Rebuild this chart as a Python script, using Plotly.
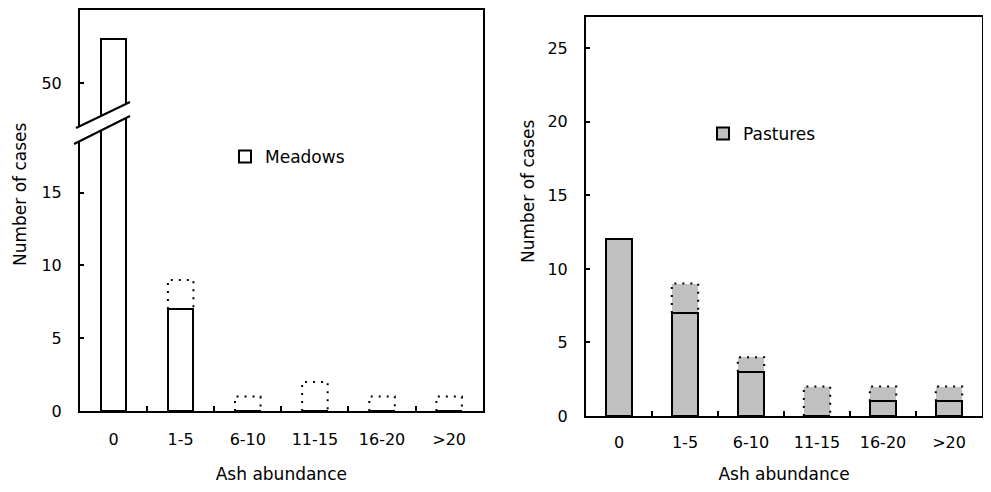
import plotly.graph_objects as go

# ---- data ----
categories = ["0", "1-5", "6-10", "11-15", "16-20", ">20"]
meadows_solid = [53, 7, 0, 0, 0, 0]
meadows_total = [53, 9, 1, 2, 1, 1]
pastures_solid = [12, 7, 3, 0, 1, 1]
pastures_total = [12, 9, 4, 2, 2, 2]

OFF = 8  # page body margin in the browser
W, H = 991 - 2 * OFF, 492 - 2 * OFF
FONT = "DejaVu Sans"
GRAY = "#c0c0c0"
xs = list(range(len(categories)))


def px(x):
    return (x - OFF) / W


def py(y):
    return 1 - (y - OFF) / H


def dotted_outline(solid, total, width):
    lx, ly = [], []
    for i, (s, t) in enumerate(zip(solid, total)):
        if t > s:
            lx += [i - width / 2, i - width / 2, i + width / 2, i + width / 2, None]
            ly += [s, t, t, s, None]
    return lx, ly


fig = go.Figure()

# ---------------- Left panel: Meadows ----------------
WL = 0.38
m_extra = [t - s for s, t in zip(meadows_solid, meadows_total)]
fig.add_trace(go.Bar(x=xs, y=m_extra, base=meadows_solid, width=WL,
                     marker=dict(color="white", line=dict(width=0)),
                     showlegend=False, xaxis="x", yaxis="y", hoverinfo="skip"))
fig.add_trace(go.Bar(x=xs, y=meadows_solid, width=WL, name="Meadows",
                     marker=dict(color="white", line=dict(color="black", width=2)),
                     showlegend=True, legend="legend", xaxis="x", yaxis="y"))
fig.add_trace(go.Bar(x=xs, y=meadows_solid, width=WL,
                     marker=dict(color="white", line=dict(color="black", width=2)),
                     showlegend=False, xaxis="x2", yaxis="y3"))
lx, ly = dotted_outline(meadows_solid, meadows_total, WL)
fig.add_trace(go.Scatter(x=lx, y=ly, mode="lines",
                         line=dict(color="black", width=2, dash="2px,6px"),
                         showlegend=False, xaxis="x", yaxis="y", hoverinfo="skip"))

# ---------------- Right panel: Pastures ----------------
WR = 0.40
p_extra = [t - s for s, t in zip(pastures_solid, pastures_total)]
fig.add_trace(go.Bar(x=xs, y=p_extra, base=pastures_solid, width=WR,
                     marker=dict(color=GRAY, line=dict(width=0)),
                     showlegend=False, xaxis="x4", yaxis="y4", hoverinfo="skip"))
fig.add_trace(go.Bar(x=xs, y=pastures_solid, width=WR, name="Pastures",
                     marker=dict(color=GRAY, line=dict(color="black", width=2)),
                     showlegend=True, legend="legend2", xaxis="x4", yaxis="y4"))
rx, ry = dotted_outline(pastures_solid, pastures_total, WR)
fig.add_trace(go.Scatter(x=rx, y=ry, mode="lines",
                         line=dict(color="black", width=2, dash="2px,6px"),
                         showlegend=False, xaxis="x4", yaxis="y4", hoverinfo="skip"))

textfont = dict(family=FONT, size=17, color="black")
tickfont = dict(family=FONT, size=16, color="black")
minor = dict(tickmode="array", tickvals=[i + 0.5 for i in range(len(categories) - 1)],
             ticks="inside", ticklen=5, tickwidth=2, tickcolor="black")

xbase = dict(range=[-0.5, len(categories) - 0.5], tickmode="array", tickvals=xs,
             ticktext=categories, ticks="", showgrid=False, zeroline=False,
             showline=True, linecolor="black", linewidth=2, tickfont=tickfont,
             minor=minor, fixedrange=True, automargin=False)
ybase = dict(tickmode="array", ticks="inside", ticklen=4, tickwidth=1.5,
             tickcolor="black", showline=True, mirror=True, linecolor="black",
             linewidth=2, showgrid=False, zeroline=False, tickfont=tickfont,
             ticklabelstandoff=13, automargin=False, fixedrange=True)

left_dom = [px(80), px(482.7)]
right_dom = [px(586), px(982)]

fig.update_layout(
    width=W, height=H,
    margin=dict(l=0, r=0, t=0, b=0, autoexpand=False),
    paper_bgcolor="white", plot_bgcolor="rgba(0,0,0,0)",
    barmode="overlay", bargap=0,
    font=dict(family=FONT, size=17, color="black"),
    xaxis=dict(xbase, domain=left_dom, anchor="y", ticklabelstandoff=13,
               title=dict(text="Ash abundance", font=textfont, standoff=26)),
    yaxis=dict(ybase, domain=[py(411), py(117)], range=[0, 294 / 14.56], anchor="x",
               tickvals=[0, 5, 10, 15]),
    xaxis2=dict(domain=left_dom, anchor="y3", side="top",
                range=[-0.5, len(categories) - 0.5], showticklabels=False, ticks="",
                showline=True, linecolor="black", linewidth=2, showgrid=False,
                zeroline=False, automargin=False, fixedrange=True),
    yaxis3=dict(ybase, domain=[py(130), py(10)],
                range=[50 - 47 / 14.56, 50 + 73 / 14.56], anchor="x2",
                tickvals=[50]),
    xaxis4=dict(xbase, domain=right_dom, anchor="y4", mirror=True,
                ticklabelstandoff=11,
                title=dict(text="Ash abundance", font=textfont, standoff=25)),
    yaxis4=dict(ybase, domain=[py(416), py(17)], range=[0, 399 / 14.71], anchor="x4",
                tickvals=[0, 5, 10, 15, 20, 25]),
    legend=dict(x=px(225), y=py(157), xanchor="left", yanchor="middle",
                bgcolor="rgba(0,0,0,0)", font=textfont,
                itemwidth=30, tracegroupgap=0),
    legend2=dict(x=px(703), y=py(134), xanchor="left", yanchor="middle",
                 bgcolor="rgba(0,0,0,0)", font=textfont,
                 itemwidth=30, tracegroupgap=0),
)

# y-axis titles
fig.add_annotation(text="Number of cases", x=px(20), y=py(194), xref="paper",
                   yref="paper", textangle=-90, showarrow=False,
                   font=textfont, xanchor="center", yanchor="middle")
fig.add_annotation(text="Number of cases", x=px(528), y=py(191), xref="paper",
                   yref="paper", textangle=-90, showarrow=False,
                   font=textfont, xanchor="center", yanchor="middle")

# axis break marks on the left panel
gap = [(76, 128), (130, 102), (130, 116), (74, 144)]
path = "M " + " L ".join(f"{px(a):.5f},{py(b):.5f}" for a, b in gap) + " Z"
fig.add_shape(type="path", path=path, xref="paper", yref="paper",
              fillcolor="white", line=dict(width=0), layer="above")
fig.add_shape(type="line", x0=px(76), y0=py(128), x1=px(130), y1=py(102),
              xref="paper", yref="paper", line=dict(color="black", width=2),
              layer="above")
fig.add_shape(type="line", x0=px(74), y0=py(144), x1=px(130), y1=py(116),
              xref="paper", yref="paper", line=dict(color="black", width=2),
              layer="above")

fig.write_html("out.html")
